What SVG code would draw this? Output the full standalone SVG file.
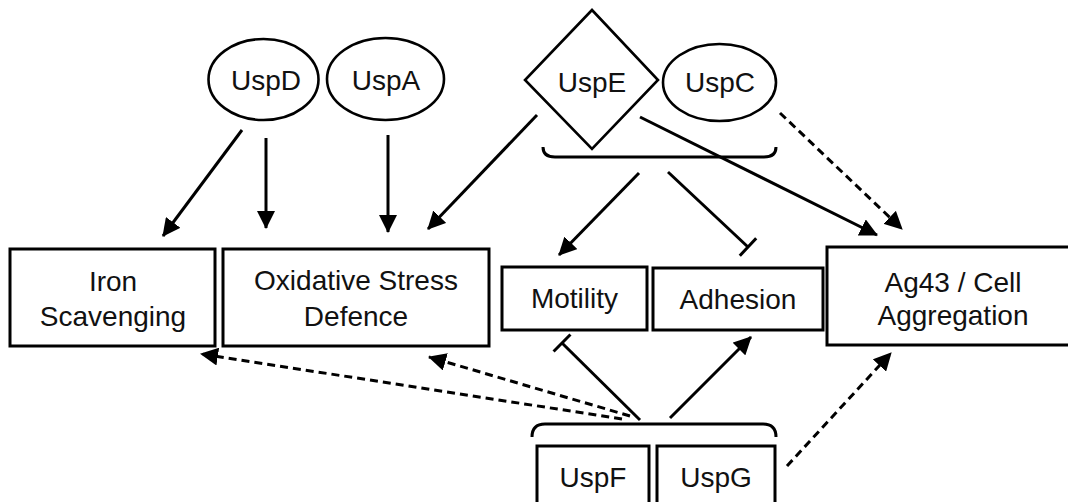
<svg xmlns="http://www.w3.org/2000/svg" width="1068" height="502" viewBox="0 0 1068 502">
<style>
.box{fill:#fff;stroke:#000;stroke-width:3}
.shape{fill:#fff;stroke:#000;stroke-width:2.6}
.t{font-family:"Liberation Sans",Arial,Helvetica,sans-serif;font-size:28px;fill:#111;text-anchor:middle}
.ln{fill:none;stroke:#000;stroke-width:3}
.act{marker-end:url(#arr)}
.inh{marker-end:url(#bar)}
.dash{stroke-dasharray:8 5}
</style>
<defs>
<marker id="arr" viewBox="0 0 18 18" refX="17" refY="9" markerWidth="18" markerHeight="18" markerUnits="userSpaceOnUse" orient="auto"><path d="M0,0 L18,9 L0,18 z" fill="#000"/></marker>
<marker id="bar" viewBox="-2 -13 4 26" refX="0" refY="0" markerWidth="4" markerHeight="26" markerUnits="userSpaceOnUse" orient="auto"><line x1="0" y1="-12" x2="0" y2="12" stroke="#000" stroke-width="3"/></marker>
</defs>
<rect width="1068" height="502" fill="#fff"/>

<g id="UspD"><ellipse class="shape" cx="263.5" cy="79.5" rx="55" ry="40.5"/><text class="t" x="266" y="90">UspD</text></g>
<g id="UspA"><ellipse class="shape" cx="385.5" cy="79" rx="58.5" ry="41"/><text class="t" x="386" y="90">UspA</text></g>
<g id="UspE"><polygon class="shape" points="592,10 658,80 592,149 525,80"/><text class="t" x="592" y="92">UspE</text></g>
<g id="UspC"><ellipse class="shape" cx="719.5" cy="82.5" rx="56.5" ry="38.5"/><text class="t" x="720" y="92">UspC</text></g>

<g id="IronScavenging"><rect class="box" x="10" y="249" width="205" height="97"/><text class="t" x="113" y="291">Iron</text><text class="t" x="113" y="326">Scavenging</text></g>
<g id="OxidativeStress"><rect class="box" x="223" y="249" width="266" height="97"/><text class="t" x="356" y="290">Oxidative Stress</text><text class="t" x="356" y="326">Defence</text></g>
<g id="Motility"><rect class="box" x="502" y="267" width="145" height="63"/><text class="t" x="574.5" y="308">Motility</text></g>
<g id="Adhesion"><rect class="box" x="653" y="268" width="170" height="62"/><text class="t" x="738" y="309">Adhesion</text></g>
<g id="Ag43"><rect class="box" x="827" y="247" width="255" height="98"/><text class="t" x="953" y="292">Ag43 / Cell</text><text class="t" x="953" y="325">Aggregation</text></g>
<g id="UspF"><rect class="box" x="537" y="446" width="112" height="70"/><text class="t" x="593" y="487">UspF</text></g>
<g id="UspG"><rect class="box" x="657" y="446" width="118" height="70"/><text class="t" x="716" y="487">UspG</text></g>

<g id="connectors">
<path class="ln" d="M543,147 Q543,157 555,157 L764,157 Q776,157 776,147"/>
<path class="ln" d="M532,437 Q532,424 545,424 L763,424 Q776,424 776,437"/>
<line class="ln act" x1="242" y1="130" x2="163" y2="236"/>
<line class="ln act" x1="266" y1="138" x2="266" y2="228"/>
<line class="ln act" x1="388" y1="135" x2="388" y2="232"/>
<line class="ln act" x1="537" y1="115" x2="428" y2="229"/>
<line class="ln act" x1="640" y1="117" x2="877" y2="235"/>
<line class="ln act dash" x1="780" y1="113" x2="902" y2="229"/>
<line class="ln act" x1="639" y1="173" x2="559" y2="255"/>
<line class="ln inh" x1="668" y1="172" x2="748" y2="247"/>
<line class="ln inh" x1="640" y1="420" x2="562" y2="343"/>
<line class="ln act" x1="670" y1="418" x2="751" y2="337"/>
<line class="ln act dash" x1="622" y1="419" x2="201" y2="354"/>
<line class="ln act dash" x1="630" y1="416" x2="429" y2="357"/>
<line class="ln act dash" x1="787" y1="466" x2="891" y2="353"/>
</g>
</svg>
